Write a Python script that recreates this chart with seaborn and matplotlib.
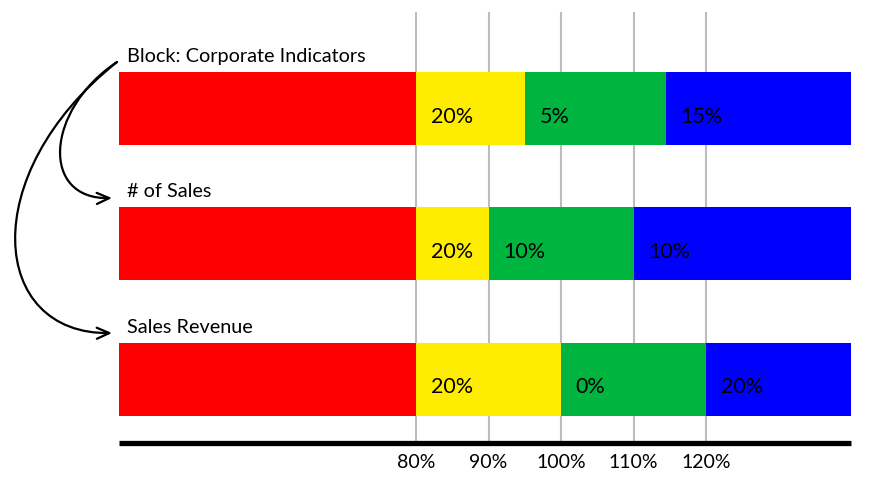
import matplotlib.pyplot as plt
import seaborn as sns
import pandas as pd
from matplotlib.patches import FancyArrowPatch
from matplotlib.path import Path

# Stacked bands per indicator, stored as cumulative segment ends (in %)
categories = ["Block: Corporate Indicators", "# of Sales", "Sales Revenue"]
red_end = [80, 80, 80]
yellow_end = [95, 90, 100]
green_end = [114.5, 110, 120]
blue_end = [140, 140, 140]

yellow_labels = ["20%", "20%", "20%"]
green_labels = ["5%", "10%", "0%"]
blue_labels = ["15%", "10%", "20%"]

tick_values = [80, 90, 100, 110, 120]
tick_labels = ["80%", "90%", "100%", "110%", "120%"]

sns.set_theme(style="white")
plt.rcParams['font.family'] = ['Lato', 'DejaVu Sans']

df = pd.DataFrame({
    'category': categories,
    'red_end': red_end,
    'yellow_end': yellow_end,
    'green_end': green_end,
    'blue_end': blue_end,
})

W, H = 888, 490
fig = plt.figure(figsize=(W / 100, H / 100), dpi=100)
ax = fig.add_axes([119 / W, 1 - 443 / H, 732 / W, 431 / H])

# draw longest first so shorter layers sit on top -> stacked look
layers = [('blue_end', '#0000ff'), ('green_end', '#00b53f'),
          ('yellow_end', '#ffed00'), ('red_end', '#ff0000')]
for col, color in layers:
    sns.barplot(data=df, x=col, y='category', color=color, saturation=1,
                width=0.54, linewidth=0, ax=ax)

ax.set_xlim(39, 140)
ax.set_ylim(2.472, -0.712)

ax.set_xticks(tick_values, tick_labels)
ax.set_yticks([])
ax.set_xlabel('')
ax.set_ylabel('')
ax.set_axisbelow(True)
ax.xaxis.grid(True, color='#bdbdbd', linewidth=1.5)
ax.yaxis.grid(False)
ax.tick_params(axis='x', length=0, pad=8, labelsize=14, labelcolor='black')

for side in ['top', 'left', 'right']:
    ax.spines[side].set_visible(False)
ax.spines['bottom'].set_linewidth(3.8)
ax.spines['bottom'].set_color('black')
ax.spines['bottom'].set_capstyle('butt')

# segment labels, category titles
off = 2.0
for i in range(len(categories)):
    ax.text(red_end[i] + off, i + 0.06, yellow_labels[i], va='center', ha='left', fontsize=15.5, color='black')
    ax.text(yellow_end[i] + off, i + 0.06, green_labels[i], va='center', ha='left', fontsize=15.5, color='black')
    ax.text(green_end[i] + off, i + 0.06, blue_labels[i], va='center', ha='left', fontsize=15.5, color='black')
    ax.text(40.1, i - 0.27 - 0.074, categories[i], va='baseline', ha='left', fontsize=14.3, color='black')

# hand-drawn style arrows on the left
def px(x, y):
    return (x / W, 1 - y / H)

codes = [Path.MOVETO, Path.CURVE4, Path.CURVE4, Path.CURVE4]
curves = [
    [px(117, 62), px(45, 110), px(40, 200), px(112, 198)],
    [px(117, 62), px(-25, 175), px(-10, 335), px(112, 333)],
]
for verts in curves:
    arrow = FancyArrowPatch(path=Path(verts, codes),
                            arrowstyle='->,head_length=9,head_width=4',
                            mutation_scale=1, lw=1.6, color='black')
    fig.add_artist(arrow)

fig.savefig('out.png', dpi=100)
